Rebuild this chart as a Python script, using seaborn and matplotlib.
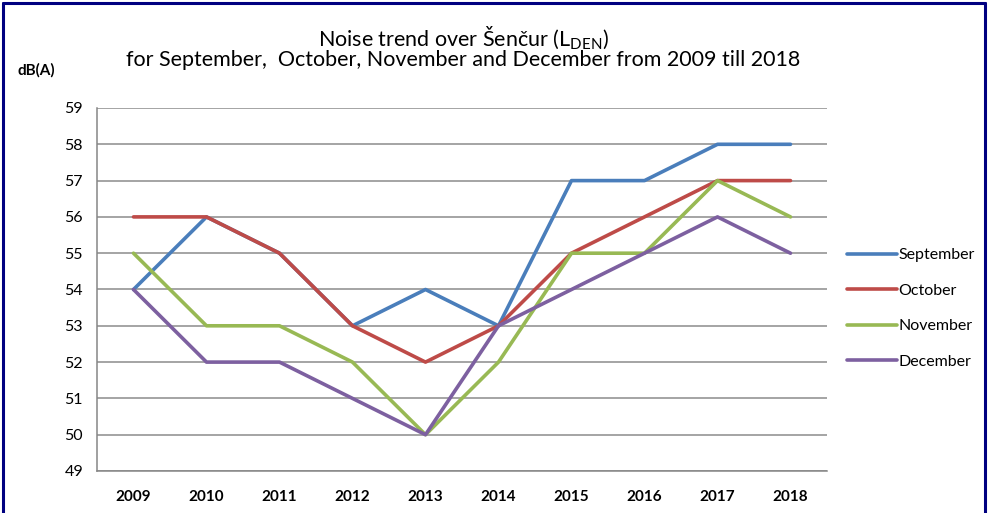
import matplotlib
matplotlib.use("Agg")
import matplotlib.pyplot as plt
import seaborn as sns
import pandas as pd
from matplotlib.lines import Line2D

years = ["2009", "2010", "2011", "2012", "2013", "2014", "2015", "2016", "2017", "2018"]
september = [54, 56, 55, 53, 54, 53, 57, 57, 58, 58]
october = [56, 56, 55, 53, 52, 53, 55, 56, 57, 57]
november = [55, 53, 53, 52, 50, 52, 55, 55, 57, 56]
december = [54, 52, 52, 51, 50, 53, 54, 55, 56, 55]
series_names = ["September", "October", "November", "December"]
colors = ["#4A7EBB", "#BE4B48", "#98B954", "#7D60A0"]

sns.set_theme(style="white")
plt.rcParams['font.family'] = ['Lato', 'DejaVu Sans']
plt.rcParams['text.color'] = 'black'
plt.rcParams['xtick.color'] = 'black'
plt.rcParams['ytick.color'] = 'black'

rows = []
for name, vals in zip(series_names, [september, october, november, december]):
    for i, v in enumerate(vals):
        rows.append({"pos": i, "year": years[i], "value": v, "series": name})
df = pd.DataFrame(rows)

fig = plt.figure(figsize=(9.88, 5.13), dpi=100)
ax = fig.add_axes([97/988, 1-471/513, (827-97)/988, (471-108)/513])

sns.lineplot(data=df, x="pos", y="value", hue="series", palette=colors,
             hue_order=series_names, linewidth=2.6, ax=ax, legend=True, zorder=3)

ax.set_xlim(-0.5, 9.5)
ax.set_ylim(49, 59)
ax.set_yticks(range(49, 60))
ax.set_yticklabels([str(v) for v in range(49, 60)], fontsize=11.5)
ax.set_xticks(range(10))
ax.set_xticklabels(years, fontsize=11, fontweight='bold')
ax.set_xticks([i - 0.5 for i in range(11)], minor=True)
ax.tick_params(axis='x', which='major', length=0, pad=14)
ax.tick_params(axis='x', which='minor', length=5, width=1, color='#868686', direction='out')
ax.tick_params(axis='y', which='major', length=5, width=1, color='#868686', direction='out', pad=5)
ax.yaxis.grid(True, color='#8c8c8c', linewidth=1.1)
ax.xaxis.grid(False)
ax.set_xlabel("")
ax.set_ylabel("")
for s in ['top', 'right']:
    ax.spines[s].set_visible(False)
for s in ['left', 'bottom']:
    ax.spines[s].set_color('#868686')
    ax.spines[s].set_linewidth(1.1)

leg = ax.legend(loc='center left', bbox_to_anchor=(847/988, 1-308.5/513),
                bbox_transform=fig.transFigure, frameon=False, borderpad=0, borderaxespad=0,
                fontsize=11.5, handlelength=3.1, handletextpad=0.1, labelspacing=1.33,
                title=None)
for line in leg.get_lines():
    line.set_linewidth(2.6)

fig.text(463/988, 1-38/513, r"Noise trend over Šenčur (L$_{\mathregular{DEN}}$)", ha='center', va='center', fontsize=15.5)
fig.text(463/988, 1-60/513, "for September,  October, November and December from 2009 till 2018", ha='center', va='center', fontsize=15.5)
fig.text(18/988, 1-70/513, "dB(A)", ha='left', va='center', fontsize=11, fontweight='bold')

for xs, ys in [([2.5/988, 2.5/988], [0, 1-2.5/513]),
               ([2.5/988, 985/988], [1-2.5/513, 1-2.5/513]),
               ([985/988, 985/988], [1-2.5/513, 0])]:
    fig.add_artist(Line2D(xs, ys, transform=fig.transFigure, color='#000080', linewidth=2.2))

fig.savefig("out.png", dpi=100)
